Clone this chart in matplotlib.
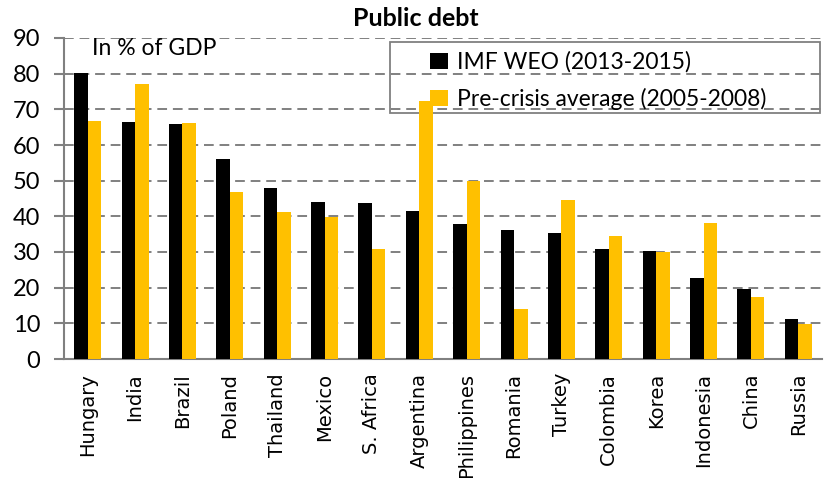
import numpy as np
import matplotlib
matplotlib.use("Agg")
import matplotlib.pyplot as plt
from matplotlib.patches import Rectangle

countries = ["Hungary", "India", "Brazil", "Poland", "Thailand", "Mexico",
             "S. Africa", "Argentina", "Philippines", "Romania", "Turkey",
             "Colombia", "Korea", "Indonesia", "China", "Russia"]
imf_weo = [80.1, 66.4, 65.8, 56.1, 47.9, 43.9, 43.6, 41.5, 37.9, 36.2,
           35.2, 30.9, 30.3, 22.6, 19.6, 11.2]
pre_crisis = [66.8, 77.2, 66.2, 46.7, 41.3, 39.7, 30.9, 72.3, 49.8, 13.9,
              44.5, 34.6, 30.0, 38.2, 17.4, 9.8]

W, H = 832, 478
fig = plt.figure(figsize=(W / 100, H / 100), dpi=100)
ax = fig.add_axes([64 / W, 1 - 359 / H, 758 / W, 321 / H])

x = np.arange(len(countries))
w = 0.285
ax.bar(x - w / 2, imf_weo, w, color="black", label="IMF WEO (2013-2015)", zorder=3)
ax.bar(x + w / 2, pre_crisis, w, color="#FFC000", label="Pre-crisis average (2005-2008)", zorder=3)

ax.set_xlim(-0.5, len(countries) - 0.5)
ax.set_ylim(0, 90)
ax.set_yticks(range(0, 91, 10))
ax.grid(axis="y", color="#808080", linestyle=(0, (5, 3)), linewidth=1.4, zorder=0)

for s in ["top", "right"]:
    ax.spines[s].set_visible(False)
for s in ["left", "bottom"]:
    ax.spines[s].set_color("#808080")
    ax.spines[s].set_linewidth(1.5)

ax.tick_params(axis="y", length=7, width=1.5, color="#808080", labelsize=17, pad=10)
for lab in ax.get_yticklabels():
    lab.set_family("Lato")
ax.set_xticks(x)
ax.set_xticklabels(countries, rotation=90, fontsize=14, family="DejaVu Sans")
ax.tick_params(axis="x", length=0, pad=10)

fig.text(92 / W, 1 - 38 / H, "In % of GDP", fontsize=16.5, family="Lato", va="top")
fig.text(416 / W, 1 - 18 / H, "Public debt", ha="center", va="center", fontsize=18,
         fontweight="bold", family="Lato")

# legend frame: wide, unfilled box (bars may cross it)
ax.add_patch(Rectangle((390 / W, 1 - 113 / H), 430 / W, 71 / H,
                       transform=fig.transFigure, fill=False,
                       edgecolor="#808080", linewidth=1.3, zorder=2, clip_on=False))
leg = ax.legend(loc="upper left", bbox_to_anchor=(419 / W, 1 - 40 / H),
                bbox_transform=fig.transFigure, prop={"family": "Lato", "size": 16.5},
                frameon=False, handlelength=0.75, handleheight=0.75,
                handletextpad=0.4, borderpad=0.0, labelspacing=0.65)

fig.savefig("out.png", dpi=100)
